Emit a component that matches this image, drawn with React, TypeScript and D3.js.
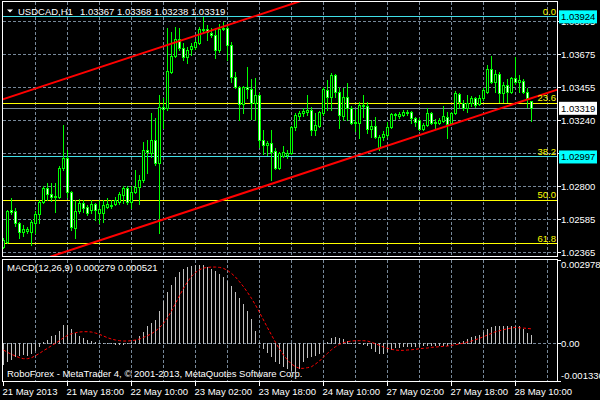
import React from "react";
import * as d3 from "d3";

// ---------- DATA ----------
const symbolTitle = "USDCAD,H1";
// [open, high, low, close] per H1 bar, 21 May 2013 02:00 .. 28 May 2013 14:00
const ohlc: [number, number, number, number][] = [
  [1.02402, 1.02461, 1.02395, 1.02448], [1.02435, 1.02647, 1.02428, 1.0264], [1.02647, 1.02726, 1.02621, 1.02634],
  [1.0264, 1.0266, 1.0254, 1.0256], [1.0256, 1.02567, 1.02461, 1.02501], [1.02501, 1.02547, 1.02474, 1.0252],
  [1.02507, 1.02534, 1.02494, 1.0252], [1.02501, 1.0258, 1.02415, 1.02567], [1.0256, 1.0264, 1.02494, 1.02621],
  [1.02621, 1.02713, 1.0256, 1.027], [1.027, 1.02805, 1.02693, 1.02792], [1.02792, 1.02825, 1.02713, 1.02753],
  [1.02753, 1.02825, 1.02706, 1.02733], [1.02733, 1.02825, 1.02634, 1.02739], [1.02733, 1.02937, 1.02726, 1.02924],
  [1.02924, 1.03209, 1.02911, 1.02991], [1.02991, 1.03044, 1.02733, 1.02766], [1.02766, 1.02772, 1.02514, 1.02534],
  [1.02527, 1.02713, 1.02461, 1.0264], [1.0264, 1.02719, 1.02627, 1.02693], [1.02693, 1.02713, 1.02634, 1.0266],
  [1.02667, 1.0268, 1.02614, 1.02627], [1.02647, 1.02713, 1.02627, 1.02687], [1.02687, 1.02693, 1.0258, 1.02647],
  [1.02627, 1.02713, 1.0256, 1.02653], [1.02627, 1.02713, 1.02567, 1.0268], [1.02667, 1.02726, 1.0266, 1.02687],
  [1.02673, 1.02713, 1.0266, 1.0268], [1.02687, 1.02733, 1.0268, 1.02713], [1.027, 1.02766, 1.02687, 1.02753],
  [1.02746, 1.02805, 1.02693, 1.02792], [1.02792, 1.02805, 1.02687, 1.027], [1.027, 1.02805, 1.0266, 1.02766],
  [1.02766, 1.02911, 1.02759, 1.02799], [1.02799, 1.02878, 1.02687, 1.02845], [1.02845, 1.03097, 1.02832, 1.03044],
  [1.03044, 1.0311, 1.02891, 1.03031], [1.03024, 1.03288, 1.02997, 1.0311], [1.0311, 1.03255, 1.02944, 1.02957],
  [1.02957, 1.03408, 1.02494, 1.03328], [1.03328, 1.03388, 1.03189, 1.03314], [1.03321, 1.03851, 1.03308, 1.03566],
  [1.0356, 1.03824, 1.03553, 1.03665], [1.03665, 1.03857, 1.03659, 1.03777], [1.03777, 1.03851, 1.03705, 1.03718],
  [1.03718, 1.03751, 1.03639, 1.03659], [1.03659, 1.03725, 1.03619, 1.03705], [1.03712, 1.03751, 1.03672, 1.03732],
  [1.03725, 1.03771, 1.03712, 1.03758], [1.03751, 1.03857, 1.03745, 1.03844], [1.03844, 1.03924, 1.03824, 1.03837],
  [1.03844, 1.03871, 1.03771, 1.03824], [1.03818, 1.03851, 1.03791, 1.03804], [1.03804, 1.03851, 1.03652, 1.03705],
  [1.03705, 1.03877, 1.03692, 1.03844], [1.03844, 1.0389, 1.03837, 1.03851], [1.03851, 1.03864, 1.03639, 1.03738],
  [1.03738, 1.03758, 1.03494, 1.03527], [1.03527, 1.0356, 1.03454, 1.03461], [1.03461, 1.03467, 1.03242, 1.03348],
  [1.03348, 1.03467, 1.03288, 1.03461], [1.03461, 1.03593, 1.03388, 1.03447], [1.03447, 1.03513, 1.03249, 1.03354],
  [1.03354, 1.0352, 1.03242, 1.03407], [1.03407, 1.03421, 1.03064, 1.0311], [1.0311, 1.03176, 1.03018, 1.03077],
  [1.03077, 1.03103, 1.03011, 1.0309], [1.0309, 1.03176, 1.02845, 1.03031], [1.03037, 1.03057, 1.02918, 1.02924],
  [1.02924, 1.03031, 1.02918, 1.03024], [1.03004, 1.0307, 1.02997, 1.03031], [1.03011, 1.03044, 1.02991, 1.03024],
  [1.03024, 1.03202, 1.03018, 1.03196], [1.03196, 1.03288, 1.03176, 1.03275], [1.03268, 1.03301, 1.03249, 1.03288],
  [1.03288, 1.03321, 1.03268, 1.03301], [1.03295, 1.03408, 1.03275, 1.03308], [1.03308, 1.03328, 1.03143, 1.03176],
  [1.03176, 1.03288, 1.03143, 1.03209], [1.03202, 1.03301, 1.03196, 1.03295], [1.03288, 1.03461, 1.03275, 1.03447],
  [1.03441, 1.03507, 1.03308, 1.03394], [1.03394, 1.03553, 1.03308, 1.0354], [1.0354, 1.03546, 1.03394, 1.03428],
  [1.03428, 1.03461, 1.03189, 1.03275], [1.03268, 1.03454, 1.03242, 1.03394], [1.03394, 1.03487, 1.03242, 1.03321],
  [1.03321, 1.03334, 1.03216, 1.03222], [1.03229, 1.03308, 1.03169, 1.03222], [1.03222, 1.03361, 1.03123, 1.03341],
  [1.03341, 1.03408, 1.03262, 1.03334], [1.03334, 1.03361, 1.03156, 1.03183], [1.03183, 1.03242, 1.0313, 1.03202],
  [1.03202, 1.03262, 1.03123, 1.0313], [1.03057, 1.03143, 1.03044, 1.0313], [1.0313, 1.03169, 1.0311, 1.0315],
  [1.03143, 1.03229, 1.0313, 1.03196], [1.03196, 1.03288, 1.03189, 1.03282], [1.03275, 1.03288, 1.03249, 1.03282],
  [1.03268, 1.03295, 1.03255, 1.03282], [1.03275, 1.03308, 1.03268, 1.03295], [1.03288, 1.03308, 1.03275, 1.03295],
  [1.03295, 1.03301, 1.03222, 1.03255], [1.03255, 1.03262, 1.03202, 1.03229], [1.03242, 1.03255, 1.03176, 1.03183],
  [1.03183, 1.03222, 1.03176, 1.03209], [1.03209, 1.03321, 1.03202, 1.03288], [1.03288, 1.03295, 1.03216, 1.03222],
  [1.03229, 1.03249, 1.03189, 1.03222], [1.03222, 1.03255, 1.03216, 1.03242], [1.03235, 1.03334, 1.03229, 1.03268],
  [1.03262, 1.03295, 1.03123, 1.03216], [1.03222, 1.03295, 1.03216, 1.03288], [1.03288, 1.03434, 1.03282, 1.03421],
  [1.03414, 1.03421, 1.03321, 1.03361], [1.03354, 1.03374, 1.03308, 1.03321], [1.03321, 1.03408, 1.03295, 1.03354],
  [1.03354, 1.03401, 1.03334, 1.03387], [1.03387, 1.03394, 1.03328, 1.03341], [1.03348, 1.03408, 1.03341, 1.03387],
  [1.03387, 1.03454, 1.03374, 1.03441], [1.03428, 1.03606, 1.03421, 1.03579], [1.03579, 1.03665, 1.03487, 1.03494],
  [1.03494, 1.03573, 1.03428, 1.03546], [1.03546, 1.0356, 1.03361, 1.03421], [1.03421, 1.03494, 1.03361, 1.03474],
  [1.03474, 1.03513, 1.03361, 1.03428], [1.03428, 1.03527, 1.03421, 1.0352], [1.0352, 1.03659, 1.0348, 1.03494],
  [1.03494, 1.0354, 1.03428, 1.03507], [1.03501, 1.03513, 1.03421, 1.03428], [1.03428, 1.03454, 1.03328, 1.03387],
  [1.03367, 1.03368, 1.03238, 1.03319],
];

const macdMain = [
  -0.000742, -0.000647, -0.000552, -0.000469, -0.00041, -0.000386, -0.00041, -0.00035, -0.000232, -0.000113,
  0.000042, 0.000125, 0.000244, 0.000279, 0.000446, 0.000636, 0.000659, 0.000517, 0.000362, 0.000244,
  0.000184, 0.000125, 0.000089, 0.000042, 0.000018, -0.000006, -0.000006, -0.000006, -0.00003, -0.00003,
  -0.00003, -0.000006, 0.00003, 0.000113, 0.000244, 0.000398, 0.0006, 0.000719, 0.000838, 0.001135,
  0.001491, 0.001824, 0.002085, 0.002346, 0.002536, 0.002643, 0.002703, 0.002738, 0.002774, 0.002798,
  0.002786, 0.002726, 0.002655, 0.00256, 0.002465, 0.002346, 0.002204, 0.002026, 0.001824, 0.00161,
  0.001396, 0.001158, 0.000873, 0.000422, 0.000042, -0.000172, -0.000315, -0.000469, -0.000624, -0.000707,
  -0.000802, -0.000885, -0.000944, -0.00098, -0.000885, -0.000624, -0.000505, -0.000469, -0.00041, -0.00035,
  -0.000267, 0.000042, 0.000184, 0.000208, 0.000184, 0.00016, 0.000089, 0.000006, 0.000006, 0.000006,
  -0.00003, -0.000077, -0.000172, -0.000267, -0.00035, -0.00035, -0.000291, -0.000208, -0.000149, -0.000125,
  -0.000113, -0.000113, -0.000101, -0.000089, -0.000089, -0.000077, -0.000077, -0.000077, -0.000065, -0.000065,
  -0.000065, -0.000053, -0.00003, 0.000006, 0.000042, 0.000089, 0.000148, 0.000208, 0.000255, 0.000303,
  0.000398, 0.000517, 0.000576, 0.000612, 0.000612, 0.000612, 0.0006, 0.0006, 0.000624, 0.0006,
  0.000517, 0.000362, 0.000279,
];

const macdSignal = [
  -0.000232, -0.000315, -0.000386, -0.000446, -0.000505, -0.000541, -0.000541, -0.000505, -0.000434, -0.00035,
  -0.000255, -0.000172, -0.000077, 0.000006, 0.000101, 0.000208, 0.000291, 0.00035, 0.000386, 0.00041,
  0.000422, 0.000422, 0.00041, 0.000374, 0.000327, 0.000267, 0.000208, 0.00016, 0.000125, 0.000101,
  0.000089, 0.000089, 0.000101, 0.000125, 0.00016, 0.00022, 0.000279, 0.00035, 0.000446, 0.000564,
  0.000719, 0.000921, 0.001158, 0.001432, 0.001705, 0.001966, 0.002204, 0.002394, 0.002536, 0.002631,
  0.002691, 0.002715, 0.002726, 0.002726, 0.002715, 0.002679, 0.002608, 0.002501, 0.00237, 0.002204,
  0.002026, 0.001824, 0.00161, 0.001372, 0.001111, 0.000838, 0.000564, 0.000303, 0.000042, -0.000196,
  -0.00041, -0.000588, -0.000731, -0.000826, -0.000885, -0.000885, -0.000861, -0.000826, -0.000731, -0.000624,
  -0.000481, -0.00035, -0.00022, -0.000113, -0.00003, 0.00003, 0.000065, 0.000089, 0.000101, 0.000101,
  0.000101, 0.000089, 0.000042, -0.000006, -0.000065, -0.000125, -0.000172, -0.000208, -0.000232, -0.000244,
  -0.000244, -0.000232, -0.00022, -0.000208, -0.000184, -0.000172, -0.00016, -0.000137, -0.000125, -0.000113,
  -0.000101, -0.000089, -0.000065, -0.000042, -0.000018, 0.000018, 0.000053, 0.000089, 0.000137, 0.000184,
  0.000244, 0.000303, 0.000362, 0.000422, 0.000457, 0.000493, 0.000529, 0.000552, 0.000576, 0.00056,
  0.00055, 0.00054, 0.000521,
];

const priceTicks = [1.03895, 1.03675, 1.03455, 1.0324, 1.0302, 1.028, 1.02585, 1.02365];
const timeTickBars = [0, 16, 32, 48, 64, 80, 96, 112, 128];
const timeTickLabels = [
  "21 May 2013", "21 May 18:00", "22 May 10:00", "23 May 02:00", "23 May 18:00",
  "24 May 10:00", "27 May 02:00", "27 May 18:00", "28 May 10:00",
];
const fibHigh = 1.03924;
const fibLow = 1.01496;
const fibLevels = [0, 0.236, 0.382, 0.5, 0.618];
const fibLabels = ["0.0", "23.6", "38.2", "50.0", "61.8"];
const hLinePrices = [1.03924, 1.02997];
const bidPrice = 1.03319;
const channelBars = [0, 130];
const channelUpper = [1.0338, 1.04515];
const channelLower = [1.02235, 1.03369];
const macdRange = [-0.001336, 0.002978];
const macdAxisLabels = ["0.002978", "0.00", "-0.001336"];
const copyright = "RoboForex - MetaTrader 4, \u00A9 2001-2013, MetaQuotes Software Corp.";

// ---------- CHART ----------
const FONT = "'Liberation Sans', Arial, sans-serif";
const FS = 9.5;
const GRID = "#778899";
const LIME = "#00FF00";

export default function App() {
  const L = 3, R = 557, mainTop = 2, mainBottom = 256, macdTop = 260, macdBottom = 381;
  const x = d3.scaleLinear().domain([0, 138.5]).range([3.5, 557.5]);
  const y = d3.scaleLinear().domain([1.02365, 1.03675]).range([252.5, 54.5]);
  const ym = d3.scaleLinear().domain(macdRange).range([macdBottom, macdTop]);
  const col = (i: number) => Math.floor(x(i));
  const row = (p: number) => Math.floor(y(p)) + 0.5;

  const gridBars = d3.range(8, 140, 8);
  const fibPrice = (lv: number) => fibHigh - (fibHigh - fibLow) * lv;
  const coveredByHLine = (p: number) => hLinePrices.some((h) => Math.abs(h - p) < 0.0001);

  const chanLine = (prices: number[]) => {
    const slope = (prices[1] - prices[0]) / (channelBars[1] - channelBars[0]);
    const pts: [number, number][] = [-10, 150].map((b) => [x(b), y(prices[0] + slope * (b - channelBars[0]))]);
    return d3.line()(pts) || "";
  };

  const signalPath = d3
    .line<number>()
    .x((_, i) => x(i))
    .y((v) => ym(v))(macdSignal) || "";

  const zeroRow = Math.floor(ym(0));
  const last = ohlc[ohlc.length - 1];

  const labelBox = (p: number, bg: string, key: string) => {
    const yy = y(p);
    return (
      <g key={key}>
        <rect x={559} y={yy - 6.5} width={38} height={13} fill={bg} />
        <text x={561} y={yy + 3.5} fill="#000" fontSize={FS} fontFamily={FONT}>
          {p.toFixed(5)}
        </text>
      </g>
    );
  };

  return (
    <svg width={600} height={400} style={{ position: "absolute", left: 0, top: 0, background: "#000" }}>
      <defs>
        <clipPath id="mainClip">
          <rect x={L} y={mainTop} width={R - L} height={mainBottom - mainTop} />
        </clipPath>
        <clipPath id="macdClip">
          <rect x={L} y={macdTop} width={R - L} height={macdBottom - macdTop} />
        </clipPath>
      </defs>
      <rect x={0} y={0} width={600} height={400} fill="#000" />

      {/* main panel */}
      <g clipPath="url(#mainClip)">
        {priceTicks.map((p) => (
          <line key={"hg" + p} x1={L} x2={R} y1={row(p)} y2={row(p)} stroke={GRID} strokeDasharray="3,2" />
        ))}
        {gridBars.map((b) => (
          <line key={"vg" + b} x1={col(b) + 0.5} x2={col(b) + 0.5} y1={mainTop} y2={mainBottom} stroke={GRID} strokeDasharray="3,2" />
        ))}
        {fibLevels
          .filter((lv) => !coveredByHLine(fibPrice(lv)))
          .map((lv) => (
            <line key={"fib" + lv} x1={L} x2={R} y1={row(fibPrice(lv))} y2={row(fibPrice(lv))} stroke="#FFFF00" />
          ))}
        {hLinePrices.map((p) => (
          <line key={"hl" + p} x1={L} x2={R} y1={row(p)} y2={row(p)} stroke="#40E0E8" />
        ))}
        <line x1={L} x2={R} y1={row(bidPrice)} y2={row(bidPrice)} stroke={GRID} />

        {ohlc.map(([o, h, l, c], i) => {
          const cx = col(i);
          const yh = Math.round(y(h));
          const yl = Math.round(y(l));
          const yo = Math.round(y(o));
          const yc = Math.round(y(c));
          const top = Math.min(yo, yc);
          const bot = Math.max(yo, yc);
          const bull = c >= o;
          let body;
          if (bot - top < 2) {
            body = <rect x={cx - 1} y={top} width={3} height={bot - top + 1} fill={LIME} />;
          } else {
            body = (
              <rect x={cx - 0.5} y={top + 0.5} width={2} height={bot - top} fill={bull ? "#000" : "#FFF"} stroke={LIME} strokeWidth={1} />
            );
          }
          return (
            <g key={"c" + i}>
              <rect x={cx} y={yh} width={1} height={yl - yh + 1} fill={LIME} />
              {body}
            </g>
          );
        })}

        <path d={chanLine(channelUpper)} stroke="#FF0000" strokeWidth={2} fill="none" />
        <path d={chanLine(channelLower)} stroke="#FF0000" strokeWidth={2} fill="none" />
      </g>

      {/* fib labels */}
      {fibLevels.map((lv, k) => (
        <text key={"fl" + lv} x={556} y={y(fibPrice(lv)) - 2} fill="#FFFF00" fontSize={FS} fontFamily={FONT} textAnchor="end">
          {fibLabels[k]}
        </text>
      ))}

      {/* title */}
      <path d="M7,9.5 L13,9.5 L10,12.5 Z" fill="#FFF" />
      <text x={18} y={15} fill="#FFF" fontSize={FS} fontFamily={FONT}>
        {symbolTitle}
      </text>
      <text x={80} y={15} fill="#FFF" fontSize={FS} fontFamily={FONT}>
        {last.map((v) => v.toFixed(5)).join(" ")}
      </text>

      {/* macd panel */}
      <g clipPath="url(#macdClip)">
        {gridBars.map((b) => (
          <line key={"vm" + b} x1={col(b) + 0.5} x2={col(b) + 0.5} y1={macdTop} y2={macdBottom} stroke={GRID} strokeDasharray="3,2" />
        ))}
        <line x1={L} x2={R} y1={zeroRow + 0.5} y2={zeroRow + 0.5} stroke={GRID} strokeDasharray="3,2" />
        {macdMain.map((v, i) => {
          const yv = Math.floor(ym(v));
          return <rect key={"h" + i} x={col(i)} y={Math.min(yv, zeroRow)} width={1} height={Math.abs(yv - zeroRow) + 1} fill="#C0C0C0" />;
        })}
        <path d={signalPath} stroke="#FF0000" strokeWidth={1} fill="none" strokeDasharray="3,2" />
      </g>
      <text x={7} y={271} fill="#FFF" fontSize={FS} fontFamily={FONT}>
        {`MACD(12,26,9) ${macdMain[macdMain.length - 1].toFixed(6)} ${macdSignal[macdSignal.length - 1].toFixed(6)}`}
      </text>
      <text x={7} y={377} fill="#FFF" fontSize={FS} fontFamily={FONT}>
        {copyright}
      </text>

      {/* frames */}
      <rect x={2.5} y={1.5} width={555} height={255} fill="none" stroke="#FFF" />
      <rect x={2.5} y={259.5} width={555} height={122} fill="none" stroke="#FFF" />

      {/* right price axis */}
      {priceTicks.map((p) => (
        <g key={"pt" + p}>
          <line x1={557} x2={561} y1={row(p)} y2={row(p)} stroke="#FFF" />
          <text x={561} y={y(p) + 3.3} fill="#FFF" fontSize={FS} fontFamily={FONT}>
            {p.toFixed(5)}
          </text>
        </g>
      ))}
      {labelBox(hLinePrices[0], "#00FFFF", "b0")}
      {labelBox(hLinePrices[1], "#00FFFF", "b1")}
      {labelBox(bidPrice, "#FFFFFF", "b2")}

      {/* macd axis */}
      {macdAxisLabels.map((t, k) => {
        const v = k === 0 ? macdRange[1] : k === 1 ? 0 : macdRange[0];
        const yy = k === 0 ? ym(v) + 8 : k === 1 ? ym(v) + 3.3 : ym(v) - 2;
        return (
          <g key={"ma" + k}>
            <line x1={557} x2={561} y1={Math.floor(ym(v)) + 0.5} y2={Math.floor(ym(v)) + 0.5} stroke="#FFF" />
            <text x={561} y={yy} fill="#FFF" fontSize={FS} fontFamily={FONT}>
              {t}
            </text>
          </g>
        );
      })}

      {/* time axis */}
      {timeTickBars.map((b, k) => (
        <g key={"tt" + b}>
          <line x1={col(b) + 0.5} x2={col(b) + 0.5} y1={382} y2={386} stroke="#FFF" />
          <text x={col(b) - 0.5} y={395} fill="#FFF" fontSize={FS} fontFamily={FONT}>
            {timeTickLabels[k]}
          </text>
        </g>
      ))}
    </svg>
  );
}
